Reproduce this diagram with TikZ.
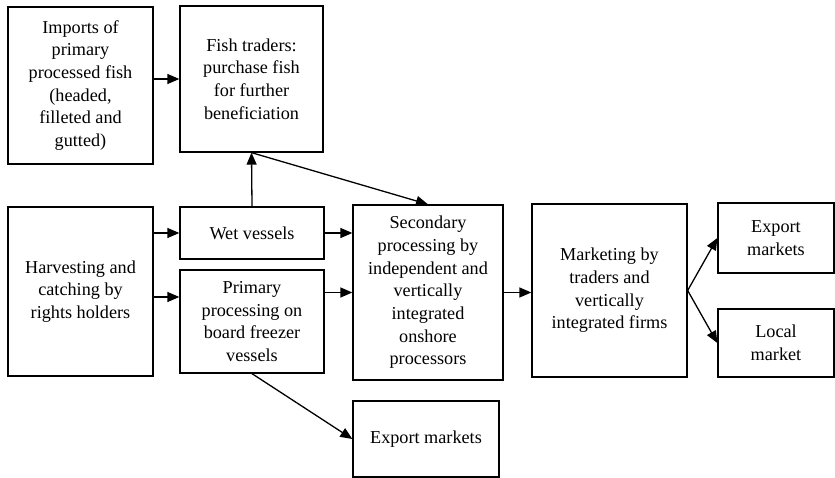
\documentclass[tikz,border=0pt]{standalone}
\usepackage{fontspec}
\setmainfont{Liberation Serif}
\usetikzlibrary{arrows.meta}

\tikzset{
  caixa/.style={draw, line width=1.3pt, inner sep=0pt, align=center,
    font=\fontsize{18.2}{22.7}\selectfont},
  seta/.style={-{Triangle[length=12pt,width=10pt]}, line width=1.3pt}
}

\begin{document}
\begin{tikzpicture}[x=1pt, y=-1pt]
\useasboundingbox (0,0) rectangle (835,478);

% Coluna 1
\node[caixa, minimum width=145, minimum height=157] (imports) at (80.5,85.5)
  {Imports of\\primary\\processed fish\\(headed,\\filleted and\\gutted)};
\node[caixa, minimum width=145, minimum height=169] (harvest) at (80.5,291.5)
  {Harvesting and\\catching by\\rights holders};

% Coluna 2
\node[caixa, minimum width=143, minimum height=146] (traders) at (251.5,79)
  {Fish traders:\\purchase fish\\for further\\beneficiation};
\node[caixa, minimum width=144, minimum height=52] (wet) at (252,233)
  {Wet vessels};
\node[caixa, minimum width=144, minimum height=103] (primary) at (252,321.5)
  {Primary\\processing on\\board freezer\\vessels};

% Coluna 3
\node[caixa, minimum width=150, minimum height=175] (secondary) at (428,292.5)
  {Secondary\\processing by\\independent and\\vertically\\integrated\\onshore\\processors};
\node[caixa, minimum width=146, minimum height=76] (exportB) at (426,439)
  {Export markets};

% Coluna 4
\node[caixa, minimum width=155, minimum height=173] (marketing) at (609.5,290.5)
  {Marketing by\\traders and\\vertically\\integrated firms};

% Coluna 5
\node[caixa, minimum width=116, minimum height=70] (exportR) at (776,238)
  {Export\\markets};
\node[caixa, minimum width=116, minimum height=68] (local) at (776,343)
  {Local\\market};

% Setas
\draw[seta] (imports.east |- traders.west) -- (traders.west);
\draw[seta] (harvest.east |- wet.west) -- (wet.west);
\draw[seta] (harvest.east |- 0,297) -- (primary.west |- 0,297);
\draw[seta] (wet.north) -- (traders.south);
\draw[seta] (traders.south) -- (secondary.north);
\draw[seta] (wet.east) -- (secondary.west |- wet.east);
\draw[seta] (primary.east |- secondary.west) -- (secondary.west);
\draw[seta] (primary.south) -- (exportB.west);
\draw[seta] (secondary.east) -- (marketing.west |- secondary.east);
\draw[seta] (marketing.east) -- (exportR.west);
\draw[seta] (marketing.east) -- (local.west);

\end{tikzpicture}
\end{document}
